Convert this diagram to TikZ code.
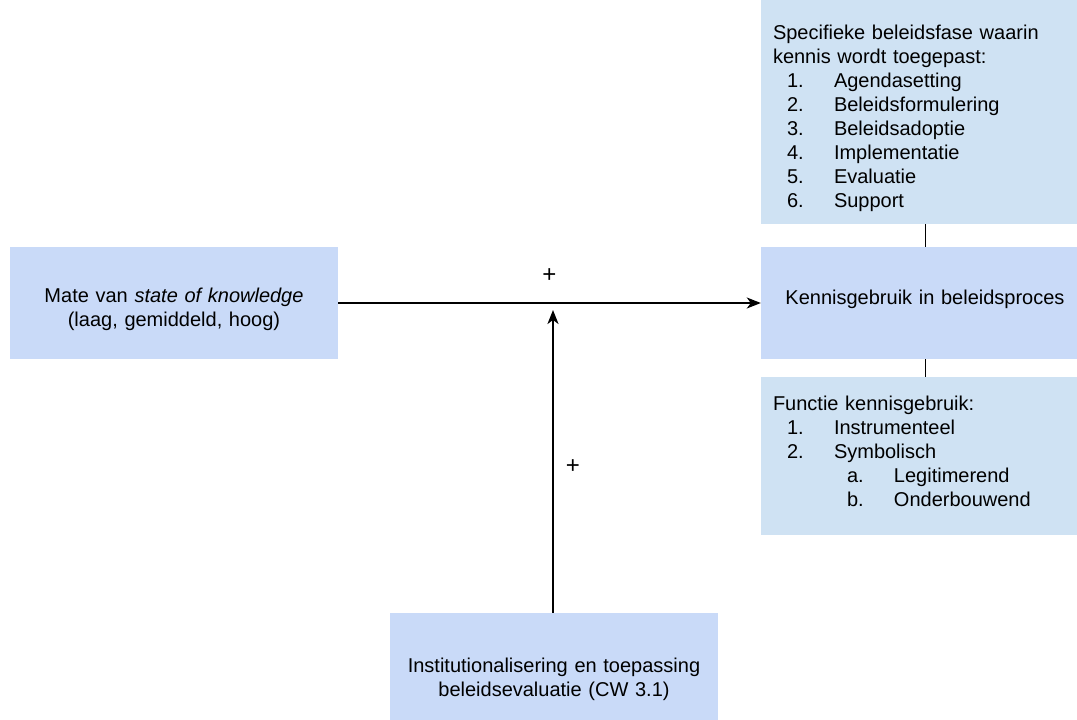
\documentclass[tikz,border=0pt]{standalone}
\usepackage{fontspec}
\setmainfont{Liberation Sans}
\usepackage{tikz}
\usetikzlibrary{arrows.meta, calc, positioning}

\definecolor{boxblue}{HTML}{C9DAF8}
\definecolor{listblue}{HTML}{CFE2F3}
\newcommand{\stap}[2]{\hspace*{14pt}\makebox[47pt][l]{#1}#2}
\newcommand{\substap}[2]{\hspace*{74pt}\makebox[47pt][l]{#1}#2}

\begin{document}
\begin{tikzpicture}[x=1pt, y=-1pt, node distance={20pt},
		main/.style = {fill=boxblue, inner sep=12pt, text width=304pt, minimum height=112pt, align=center, font=\fontsize{20}{24}\selectfont},
		lijst/.style = {main, fill=listblue, align=left},
		plus/.style = {font=\fontsize{24}{24}\selectfont, inner sep=0pt},
		pijl/.style = {line width=2pt, -{Stealth[length=14pt, width=11pt, inset=4pt]}}]
		\useasboundingbox (0,0) rectangle (1077,720);
		\node[main, text depth=12.2pt] (kennis) at (925,303) {Kennisgebruik in beleidsproces};
		\node[lijst, minimum height=214pt, text height=28.6pt] (fasen) [above=23pt of kennis] {Specifieke beleidsfase waarin\\kennis wordt toegepast:\\
			\stap{1.}{Agendasetting}\\
			\stap{2.}{Beleidsformulering}\\
			\stap{3.}{Beleidsadoptie}\\
			\stap{4.}{Implementatie}\\
			\stap{5.}{Evaluatie}\\
			\stap{6.}{Support}};
		\node[lijst, minimum height=158pt, text depth=106pt] (functie) [below=18pt of kennis] {Functie kennisgebruik:\\
			\stap{1.}{Instrumenteel}\\
			\stap{2.}{Symbolisch}\\
			\substap{a.}{Legitimerend}\\
			\substap{b.}{Onderbouwend}};
		\node[main, text height=26.6pt] (mate) at (174,303) {Mate van \textit{state of knowledge}\\(laag, gemiddeld, hoog)};
		\node[main, minimum height=116pt, text height=30.6pt] (inst) at (554,671) {Institutionalisering en toepassing\\beleidsevaluatie (CW 3.1)};
		\coordinate (raak) at (553,310);
		\draw (fasen) -- (kennis);
		\draw (kennis) -- (functie);
		\draw[pijl] (mate) -- node[plus, midway, yshift=27pt] {+} (kennis);
		\draw[pijl] (inst.north -| raak) -- node[plus, midway, xshift=20pt, yshift=-5pt] {+} (raak);
	\end{tikzpicture}
\end{document}
